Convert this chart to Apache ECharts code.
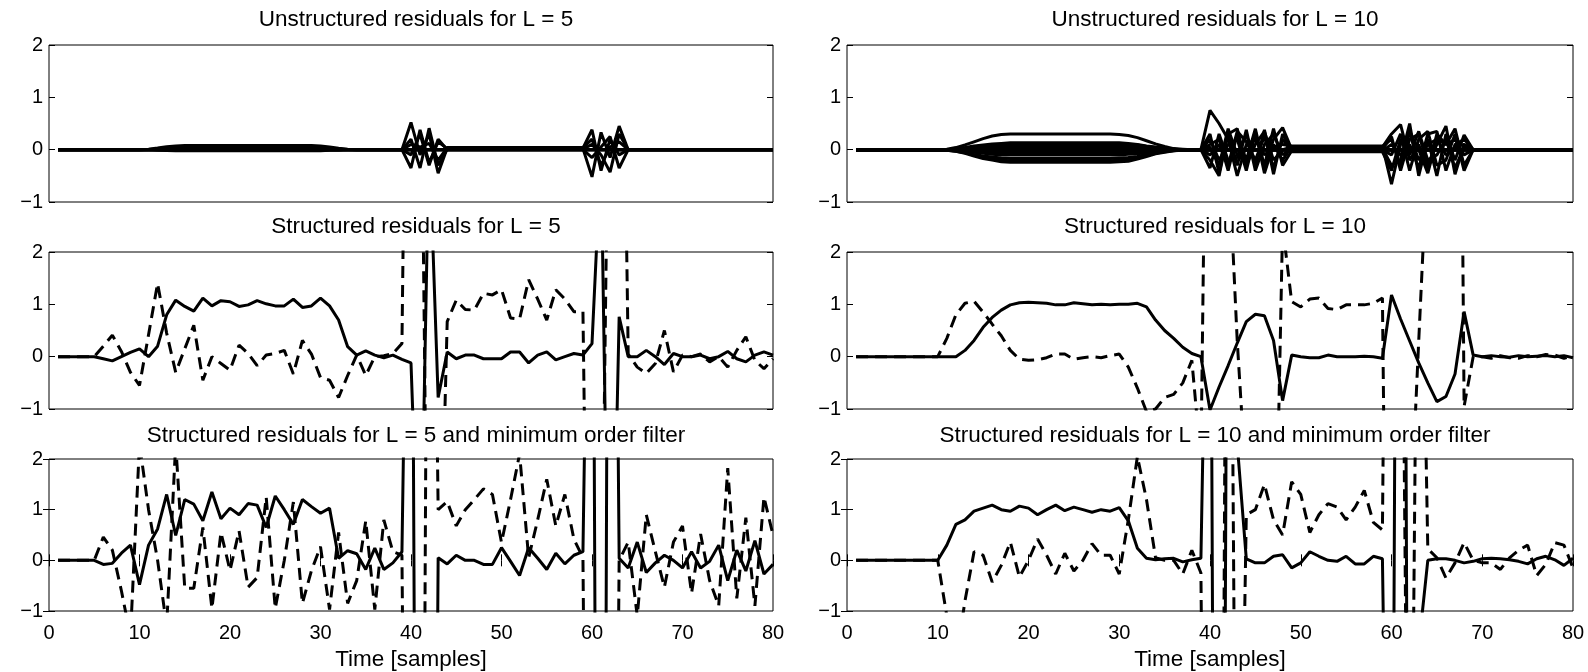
<!DOCTYPE html>
<html lang="en">
<head>
<meta charset="UTF-8">
<title>Residuals</title>
<style>html,body{margin:0;padding:0;background:#fff;}</style>
</head>
<body>
<div id="main" style="width:1588px;height:672px"></div>
<script src="https://cdn.jsdelivr.net/npm/echarts@6/dist/echarts.min.js"></script>
<script>
// sample axis runs 1..80, every array below is one value per sample

// structured residuals, L = 5
var sl5Solid = [0,0,0,0,0,-0.04,-0.08,0,0.08,0.15,
    0,0.2,0.8,1.08,0.96,0.87,1.12,0.97,1.07,1.05,
    0.96,0.99,1.07,1.01,0.97,0.97,1.1,0.94,0.97,1.12,
    0.97,0.7,0.19,0.03,0.11,0.03,-0.02,0.03,-0.05,-0.12,
    -5,4.2,-0.78,0.09,-0.04,0.03,0.03,-0.04,-0.04,-0.04,
    0.09,0.09,-0.12,0.03,0.09,-0.06,0,0.06,0.03,0.25,
    3.9,-7.2,0.76,0,0,0.12,0,-0.15,0.06,0,
    0,0.03,-0.04,0,0.1,-0.04,-0.1,0.03,0.09,0.03];
var sl5Dash = [0,0,0,0,0,0.2,0.41,0.1,-0.3,-0.55,
    0.42,1.4,0.45,-0.3,0.15,0.6,-0.45,0,-0.13,-0.26,
    0.22,0.06,-0.17,0.03,0.06,0.12,-0.33,0.31,0.05,-0.4,
    -0.45,-0.78,-0.36,0.03,-0.36,0,0.02,0.06,0.25,15,
    8,-8,-6,0.67,1.08,0.9,0.89,1.21,1.18,1.28,
    0.74,0.72,1.47,1.1,0.7,1.28,1.1,0.86,0.86,-12,
    -6,8,12,0.05,-0.2,-0.32,-0.13,0.5,-0.29,0.03,
    0,0.05,-0.1,0,-0.2,0.12,0.38,-0.07,-0.23,-0.04];

// structured residuals, L = 5, minimum order filter
var sf5Solid = [0,0,0,0,0,-0.08,-0.06,0.14,0.3,-0.48,
    0.3,0.62,1.3,0.49,1.2,1.11,0.78,1.35,0.82,1.03,
    0.9,1.12,1.09,0.65,1.27,1,0.71,1.2,1.06,0.93,
    1.03,0.04,0.19,0.13,-0.18,0.24,-0.18,-0.05,0.17,12,
    -25,-25,0.05,-0.07,0.1,0,0,-0.08,-0.08,0.25,
    -0.02,-0.3,0.25,0.04,-0.18,0.14,-0.07,0.1,0.17,12,
    -28,20,0.04,-0.15,0.36,-0.24,-0.05,0.1,0,-0.15,
    0.17,-0.15,-0.02,0.3,-0.4,0.2,-0.21,0.39,-0.27,-0.08];
var sf5Dash = [0,0,0,0,0,0.46,0.2,-0.6,-1.5,2.3,
    1,0,-1.3,2.3,-0.55,-0.55,0.65,-0.95,0.55,-0.2,
    0.58,-0.53,-0.34,1.25,-0.95,0,1.15,-0.85,-0.2,0.27,
    -0.97,0.55,-0.85,-0.4,0.78,-0.97,0.8,0.17,0.1,-20,
    -20,15,1,1.16,0.68,1,1.2,1.41,1.3,0.35,
    1.2,2.1,0.05,0.8,1.6,0.68,1.3,0.42,0.05,-20,
    -20,-20,0,0.36,-1.1,0.9,0.17,-0.53,0.36,0.68,
    -0.65,0.52,-0.4,-0.9,1.82,-0.75,0.84,-0.9,1.25,0.5];

// structured residuals, L = 10
var sl10Solid = [0,0,0,0,0,0,0,0,0,0,
    0,0,0.12,0.31,0.56,0.75,0.89,0.99,1.03,1.04,
    1.03,1.02,0.99,0.99,1.03,1.01,0.99,1,0.99,1,
    1,1.02,0.95,0.7,0.5,0.35,0.18,0.06,0,-1.02,
    -0.58,-0.17,0.26,0.67,0.81,0.78,0.31,-0.84,0.03,0,
    -0.02,-0.02,0.03,0,0,0,0.01,0,-0.03,1.18,
    0.72,0.3,-0.12,-0.5,-0.86,-0.76,-0.33,0.86,0.03,0,
    0.02,0,-0.01,0.02,0,0.01,0.02,0,0.02,-0.02];
var sl10Dash = [0,0,0,0,0,0,0,0,0,0,
    0.35,0.8,1.02,1.06,0.85,0.62,0.4,0.12,-0.05,-0.07,
    -0.06,-0.02,0.05,0.05,-0.05,-0.02,0,-0.02,0.02,0.05,
    -0.2,-0.6,-1.05,-1,-0.78,-0.72,-0.5,-0.07,-2,12,
    8,4,0.3,-2.5,-5,-6,-6,2.5,1.05,0.95,
    1.1,1.12,0.92,0.9,0.99,0.99,0.99,1.02,1.12,-15,
    -10,-3.5,0.3,4,8,12,20,-0.95,0,0,
    -0.03,0.02,-0.02,-0.03,0.02,0,0.04,0.03,-0.03,0.02];

// structured residuals, L = 10, minimum order filter
var sf10Solid = [0,0,0,0,0,0,0,0,0,0,
    0.3,0.71,0.8,0.97,1.03,1.09,1,0.97,1.07,1.03,
    0.9,1,1.09,0.98,1.05,1,0.95,1,0.97,1.04,
    0.78,0.24,0.04,0.01,0.03,0.04,-0.03,0.01,0.04,10,
    -30,12,2.3,0.03,-0.05,-0.05,0.08,0.11,-0.15,-0.05,
    0.17,0.08,0,-0.02,0.08,-0.07,-0.07,0.08,0.03,-12,
    28,-15,-1.7,0,0.03,0.03,0,-0.05,-0.02,0.03,
    0.04,0.03,0.01,-0.02,-0.07,0.03,0.08,0.01,-0.1,0.04];
var sf10Dash = [0,0,0,0,0,0,0,0,0,0,
    -1.1,-2,-0.8,0.17,0.1,-0.43,-0.1,0.36,-0.33,0,
    0.42,0.1,-0.27,0.14,-0.21,0,0.33,0.1,0.1,-0.27,
    0.8,2.05,1.2,0.05,0,0,-0.27,0.2,-0.25,-20,
    -20,15,-10,0.9,1,1.5,0.8,0.5,1.55,1.3,
    0.55,0.9,1.12,1.05,0.8,1.05,1.38,0.75,0.6,20,
    10,-10,10,0.23,0.05,-0.35,-0.05,0.35,0,-0.05,
    -0.05,-0.18,0.05,0.2,0.3,-0.3,-0.08,0.35,0.3,-0.15];

// unstructured residuals, L = 5: zero except where listed
// slow bulge, samples 10..35
var ul5LensStart = 10;
var ul5Lens = [
    [0,.01,.03,.055,.07,.08,.08,.08,.08,.08,.08,.08,.08,.08,.08,.08,.08,.08,.08,.08,.07,.05,.025,.01,0,0],
    [0,.005,.02,.035,.045,.05,.05,.05,.05,.05,.05,.05,.05,.05,.05,.05,.05,.05,.05,.05,.045,.03,.015,.005,0,0],
    [0,0,.01,.015,.02,.02,.02,.02,.02,.02,.02,.02,.02,.02,.02,.02,.02,.02,.02,.02,.02,.01,.01,0,0,0],
    [0,0,-.01,-.015,-.02,-.02,-.02,-.02,-.02,-.02,-.02,-.02,-.02,-.02,-.02,-.02,-.02,-.02,-.02,-.02,-.02,-.01,-.01,0,0,0]
];
// fault bursts, samples 39..64
var ul5BurstStart = 39;
var ul5Burst = [
    [0,.52,-.1,.3,-.45,.03,.03,.03,.03,.03,.03,.03,.03,.03,.03,.03,.03,.03,.03,.03,.03,.38,-.4,.2,-.1,0],
    [0,-.35,.38,-.25,.15,.02,.02,.02,.02,.02,.02,.02,.02,.02,.02,.02,.02,.02,.02,.02,.02,-.52,.33,-.15,.45,0],
    [0,.2,-.35,.41,-.3,.01,.01,.01,.01,.01,.01,.01,.01,.01,.01,.01,.01,.01,.01,.01,.01,.1,-.1,-.43,.3,0],
    [0,-.1,.3,-.3,.2,0,0,0,0,0,0,0,0,0,0,0,0,0,0,0,0,-.15,.05,.25,-.35,0],
    [0,.1,.05,.12,-.2,.04,.04,.04,.04,.04,.04,.04,.04,.04,.04,.04,.04,.04,.04,.04,.04,.2,-.3,.05,.15,0]
];

// unstructured residuals, L = 10
// slow bulge, samples 10..38
var ul10LensStart = 10;
var ul10Lens = [
    [0,.01,.04,.09,.15,.21,.26,.29,.3,.3,.3,.3,.3,.3,.3,.3,.3,.3,.3,.3,.29,.27,.23,.17,.11,.06,.02,.01,0],
    [0,0,.02,.04,.07,.09,.11,.12,.13,.13,.13,.13,.13,.13,.13,.13,.13,.13,.13,.13,.13,.12,.1,.07,.05,.03,.01,0,0],
    [0,0,.01,.03,.05,.07,.09,.1,.11,.11,.11,.11,.11,.11,.11,.11,.11,.11,.11,.11,.11,.1,.09,.06,.04,.02,.01,0,0],
    [0,0,.01,.02,.04,.06,.07,.08,.08,.08,.08,.08,.08,.08,.08,.08,.08,.08,.08,.08,.08,.07,.06,.04,.03,.02,.01,0,0],
    [0,0,0,.01,.02,.02,.03,.03,.03,.03,.03,.03,.03,.03,.03,.03,.03,.03,.03,.03,.03,.03,.02,.02,.01,.01,0,0,0],
    [0,0,0,-.01,-.02,-.03,-.03,-.04,-.04,-.04,-.04,-.04,-.04,-.04,-.04,-.04,-.04,-.04,-.04,-.04,-.04,-.04,-.03,-.02,-.01,-.01,0,0,0],
    [0,0,0,-.02,-.03,-.05,-.06,-.07,-.07,-.07,-.07,-.07,-.07,-.07,-.07,-.07,-.07,-.07,-.07,-.07,-.07,-.06,-.05,-.04,-.02,-.01,0,0,0],
    [0,0,-.01,-.03,-.05,-.07,-.09,-.1,-.1,-.1,-.1,-.1,-.1,-.1,-.1,-.1,-.1,-.1,-.1,-.1,-.1,-.09,-.08,-.06,-.04,-.02,-.01,0,0],
    [0,-.01,-.02,-.05,-.09,-.12,-.14,-.16,-.17,-.17,-.17,-.17,-.17,-.17,-.17,-.17,-.17,-.17,-.17,-.17,-.16,-.15,-.13,-.09,-.06,-.03,-.01,0,0],
    [0,-.01,-.03,-.06,-.1,-.14,-.18,-.2,-.21,-.21,-.21,-.21,-.21,-.21,-.21,-.21,-.21,-.21,-.21,-.21,-.2,-.19,-.16,-.11,-.07,-.04,-.02,0,0],
    [0,-.01,-.03,-.07,-.12,-.17,-.2,-.23,-.24,-.24,-.24,-.24,-.24,-.24,-.24,-.24,-.24,-.24,-.24,-.24,-.23,-.22,-.18,-.13,-.08,-.05,-.02,-.01,0]
];
// fault bursts, samples 39..69
var ul10BurstStart = 39;
var ul10Burst = [
    [0,.75,.5,.2,-.5,.1,.2,-.1,.05,.1,.07,.07,.07,.07,.07,.07,.07,.07,.07,.07,.07,-.66,.1,.3,-.2,.1,.2,-.1,.05,.1,0],
    [0,.3,-.45,.3,.4,-.3,.1,.35,-.2,0,.05,.05,.05,.05,.05,.05,.05,.05,.05,.05,.05,.3,.48,-.2,.1,-.4,.3,.1,.2,-.1,0],
    [0,-.2,-.5,.35,-.3,.38,-.4,.1,.3,-.1,.03,.03,.03,.03,.03,.03,.03,.03,.03,.03,.03,-.3,-.2,.5,-.5,.2,-.5,.3,-.2,.28,0],
    [0,.1,.2,-.4,.3,-.2,.4,-.35,.2,.42,.01,.01,.01,.01,.01,.01,.01,.01,.01,.01,.01,.25,-.4,.2,.3,-.3,.1,.45,-.47,.1,0],
    [0,-.35,.3,-.2,-.15,.3,-.3,.38,-.47,.3,-.01,-.01,-.01,-.01,-.01,-.01,-.01,-.01,-.01,-.01,-.01,-.1,.3,-.4,.2,.35,-.3,-.2,.3,-.4,0],
    [0,.2,-.2,.1,.2,-.4,.3,-.3,.4,-.3,-.02,-.02,-.02,-.02,-.02,-.02,-.02,-.02,-.02,-.02,-.02,.1,-.1,.1,-.35,.3,.35,-.4,.1,.2,0],
    [0,-.1,.1,-.3,.35,.15,-.2,.25,-.35,.2,-.04,-.04,-.04,-.04,-.04,-.04,-.04,-.04,-.04,-.04,-.04,-.4,.2,-.1,.35,-.2,-.1,.2,-.35,.05,0],
    [0,.05,-.3,.4,-.1,-.25,.35,-.45,.1,-.2,.06,.06,.06,.06,.06,.06,.06,.06,.06,.06,.06,.2,-.3,.35,0,-.45,.2,.1,.4,-.3,0]
];

var titles = [
    'Unstructured residuals for L = 5',
    'Unstructured residuals for L = 10',
    'Structured residuals for L = 5',
    'Structured residuals for L = 10',
    'Structured residuals for L = 5 and minimum order filter',
    'Structured residuals for L = 10 and minimum order filter'
];

var N = 80;
var font = '"Liberation Sans", Arial, Helvetica, sans-serif';

function pairs(vals) {
    return vals.map(function (v, i) { return [i + 1, v]; });
}
// full 1..N line that is zero outside the listed stretch
function stretch(start, vals) {
    var out = [];
    for (var n = 1; n <= N; n++) {
        var i = n - start;
        out.push([n, (i >= 0 && i < vals.length) ? vals[i] : 0]);
    }
    return out;
}

var solid = {color: '#000', width: 3, type: 'solid'};
var dashed = {color: '#000', width: 3, type: [12, 7]};

function manyLines(start, list) {
    return list.map(function (v) { return {data: stretch(start, v), style: solid}; });
}

var panels = [
    {left: 49, top: 45, width: 724,
        lines: manyLines(ul5LensStart, ul5Lens).concat(manyLines(ul5BurstStart, ul5Burst))},
    {left: 847, top: 45, width: 726,
        lines: manyLines(ul10LensStart, ul10Lens).concat(manyLines(ul10BurstStart, ul10Burst))},
    {left: 49, top: 252, width: 724,
        lines: [{data: pairs(sl5Solid), style: solid}, {data: pairs(sl5Dash), style: dashed}]},
    {left: 847, top: 252, width: 726,
        lines: [{data: pairs(sl10Solid), style: solid}, {data: pairs(sl10Dash), style: dashed}]},
    {left: 49, top: 459, width: 724,
        lines: [{data: pairs(sf5Solid), style: solid}, {data: pairs(sf5Dash), style: dashed}]},
    {left: 847, top: 459, width: 726,
        lines: [{data: pairs(sf10Solid), style: solid}, {data: pairs(sf10Dash), style: dashed}]}
];

var grid = [], xAxis = [], yAxis = [], title = [], series = [];
var tick = {inside: true, length: 6, lineStyle: {color: '#000', width: 1}};

panels.forEach(function (p, g) {
    var bottomRow = g >= 4;
    grid.push({left: p.left, top: p.top, width: p.width, height: 157,
        show: true, borderColor: '#000', borderWidth: 1, backgroundColor: 'transparent'});
    title.push({text: titles[g], left: p.left + p.width / 2, top: p.top - 42 + (bottomRow ? 2 : 0),
        textAlign: 'center',
        textStyle: {fontSize: 22.5, fontWeight: 'normal', color: '#000', fontFamily: font}});

    xAxis.push({gridIndex: g, type: 'value', min: 0, max: N, interval: 10, position: 'bottom',
        axisLine: {show: false}, splitLine: {show: false},
        axisTick: Object.assign({show: bottomRow}, tick),
        axisLabel: {show: bottomRow, margin: 12, fontSize: 20, color: '#000', fontFamily: font},
        name: bottomRow ? 'Time [samples]' : '', nameLocation: 'middle', nameGap: 37,
        nameTextStyle: {fontSize: 22.5, color: '#000', fontFamily: font}});
    var xi = xAxis.length - 1;
    if (bottomRow) {
        xAxis.push({gridIndex: g, type: 'value', min: 0, max: N, interval: 10, position: 'top',
            axisLine: {show: false}, splitLine: {show: false}, axisTick: tick, axisLabel: {show: false}});
    }
    yAxis.push({gridIndex: g, type: 'value', min: -1, max: 2, interval: 1, position: 'left',
        axisLine: {show: false}, splitLine: {show: false}, axisTick: tick,
        axisLabel: {margin: 6, fontSize: 20, color: '#000', fontFamily: font,
            formatter: function (v) { return v < 0 ? '\u2212' + (-v) : String(v); }}});
    var yi = yAxis.length - 1;
    yAxis.push({gridIndex: g, type: 'value', min: -1, max: 2, interval: 1, position: 'right',
        axisLine: {show: false}, splitLine: {show: false}, axisTick: tick, axisLabel: {show: false}});

    p.lines.forEach(function (ln) {
        series.push({type: 'line', xAxisIndex: xi, yAxisIndex: yi, data: ln.data,
            showSymbol: false, symbol: 'none', clip: true, silent: true,
            lineStyle: ln.style});
    });
});

var myChart = echarts.init(document.getElementById('main'));
myChart.setOption({
    backgroundColor: '#fff',
    animation: false,
    title: title,
    grid: grid,
    xAxis: xAxis,
    yAxis: yAxis,
    series: series
});
</script>
</body>
</html>
